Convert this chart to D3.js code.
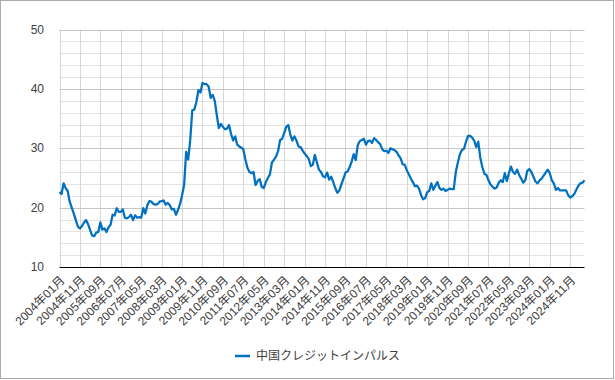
<!DOCTYPE html>
<html>
<head>
<meta charset="utf-8">
<script src="https://cdn.jsdelivr.net/npm/d3@7"></script>
<style>
    body { margin: 0; background: #fff; }
    svg { display: block; font-family: "Liberation Sans", "Noto Sans CJK JP", sans-serif; }
</style>
</head>
<body>
<svg id="chart"></svg>
<script>
// china credit impulse, monthly from 2004-01
const startMonth = "2004-01";
const seriesName = "中国クレジットインパルス";
const creditImpulse = [
    22.6, 22.3, 24.1, 23.3, 22.8, 21.0, 20.0, 19.0, 17.9, 16.8,
    16.5, 16.9, 17.5, 17.9, 17.2, 16.2, 15.3, 15.2, 15.8, 15.9,
    17.5, 16.3, 16.5, 15.9, 16.7, 17.1, 18.8, 18.7, 19.9, 19.3,
    19.3, 19.7, 18.3, 18.2, 18.4, 18.8, 17.9, 18.7, 18.3, 18.4,
    18.3, 19.9, 19.0, 20.4, 21.1, 21.0, 20.6, 20.5, 20.6, 21.0,
    21.1, 21.2, 20.5, 20.8, 20.4, 19.7, 19.8, 18.8, 19.6, 20.6,
    22.1, 23.8, 29.4, 28.1, 31.4, 36.4, 36.5, 37.8, 39.8, 39.4,
    41.0, 40.8, 40.8, 40.4, 38.5, 39.0, 38.0, 35.6, 33.4, 34.1,
    33.6, 33.2, 33.3, 33.9, 32.4, 31.3, 32.0, 30.6, 30.3, 30.1,
    29.8, 28.1, 26.7, 26.0, 25.8, 26.0, 23.8, 24.5, 24.8, 23.5,
    23.3, 24.3, 25.0, 25.6, 27.6, 28.1, 28.6, 29.5, 31.4, 31.6,
    32.6, 33.6, 33.9, 32.3, 31.3, 32.0, 31.3, 30.3, 30.2, 29.6,
    29.1, 28.7, 28.2, 27.0, 27.2, 28.9, 27.6, 26.4, 26.0, 25.3,
    25.1, 25.9, 24.7, 25.2, 24.3, 23.3, 22.5, 22.9, 23.9, 24.9,
    25.9, 26.1, 26.8, 27.7, 29.0, 28.0, 30.5, 31.2, 31.4, 31.6,
    30.6, 31.2, 31.3, 30.9, 31.7, 31.4, 31.0, 30.7, 29.8, 29.5,
    29.6, 29.2, 30.0, 29.8, 29.7, 29.4, 28.8, 28.3, 27.3, 27.2,
    26.3, 25.6, 24.9, 24.3, 23.6, 23.7, 23.2, 22.1, 21.4, 21.6,
    22.6, 22.8, 24.1, 23.0, 23.7, 24.3, 23.3, 23.0, 23.2, 22.8,
    23.0, 23.2, 23.1, 23.1, 26.0, 27.6, 29.0, 29.7, 29.9, 31.1,
    32.1, 32.1, 31.8, 31.3, 30.2, 31.1, 28.4, 26.8, 25.7, 25.5,
    24.6, 23.9, 23.5, 23.2, 23.4, 24.2, 24.6, 24.3, 25.8, 24.5,
    25.8, 26.9, 26.0, 25.7, 26.4, 25.5, 24.9, 24.2, 24.6, 26.2,
    26.5, 26.0, 25.2, 24.4, 24.1, 24.6, 24.9, 25.4, 25.9, 26.4,
    25.8, 24.6, 24.1, 23.0, 23.3, 22.9, 22.9, 22.9, 22.9, 22.1,
    21.7, 21.9, 22.3, 23.0, 23.7, 24.1, 24.2, 24.6
];
const tickLabels = [
    "2004年01月", "2004年11月", "2005年09月", "2006年07月", "2007年05月",
    "2008年03月", "2009年01月", "2009年11月", "2010年09月", "2011年07月",
    "2012年05月", "2013年03月", "2014年01月", "2014年11月", "2015年09月",
    "2016年07月", "2017年05月", "2018年03月", "2019年01月", "2019年11月",
    "2020年09月", "2021年07月", "2022年05月", "2023年03月", "2024年01月",
    "2024年11月"
];
const yTicks = [10, 20, 30, 40, 50];

const width = 615;
const height = 380;
const margin = { top: 29.5, right: 30.5, bottom: 113, left: 59.5 };
const lineColor = "#0070c0";

const svg = d3.select("#chart").attr("width", width).attr("height", height);

// outer frame
svg.append("rect")
    .attr("x", 0.5).attr("y", 0.5)
    .attr("width", width - 2).attr("height", height - 2)
    .attr("fill", "#fff")
    .attr("stroke", "#ababab");

const parse = d3.timeParse("%Y-%m");
const months = d3.range(creditImpulse.length).map(i => d3.timeMonth.offset(parse(startMonth), i));
const data = months.map((m, i) => ({ i, month: m, value: creditImpulse[i] }));

const x = d3.scaleLinear()
    .domain([0, data.length - 1])
    .range([margin.left, width - margin.right]);

const y = d3.scaleLinear()
    .domain([10, 50])
    .range([height - margin.bottom, margin.top]);

const tickIdx = tickLabels.map((_, k) => k * 10);

// minor horizontal grid
svg.append("g")
    .selectAll("line")
    .data(d3.range(12, 50, 2).filter(v => v % 10 !== 0))
    .join("line")
    .attr("x1", margin.left).attr("x2", width - margin.right)
    .attr("y1", d => Math.round(y(d)) + 0.5).attr("y2", d => Math.round(y(d)) + 0.5)
    .attr("stroke", "#e3e3e3");

// vertical grid
svg.append("g")
    .selectAll("line")
    .data(tickIdx)
    .join("line")
    .attr("x1", d => Math.round(x(d)) + 0.5).attr("x2", d => Math.round(x(d)) + 0.5)
    .attr("y1", margin.top).attr("y2", height - margin.bottom)
    .attr("stroke", "#d6d6d6");

// major horizontal grid
svg.append("g")
    .selectAll("line")
    .data(yTicks.slice(1))
    .join("line")
    .attr("x1", margin.left).attr("x2", width - margin.right)
    .attr("y1", d => Math.round(y(d)) + 0.5).attr("y2", d => Math.round(y(d)) + 0.5)
    .attr("stroke", "#c4c4c4");

// y labels
svg.append("g")
    .selectAll("text")
    .data(yTicks)
    .join("text")
    .attr("x", 44)
    .attr("y", d => y(d))
    .attr("dy", "0.35em")
    .attr("text-anchor", "end")
    .attr("font-size", 12)
    .attr("fill", "#404040")
    .text(d => d);

// x axis line
svg.append("line")
    .attr("x1", margin.left).attr("x2", width - margin.right)
    .attr("y1", Math.round(y(10)) + 0.5).attr("y2", Math.round(y(10)) + 0.5)
    .attr("stroke", "#000")
    .attr("stroke-width", 1.2);

// x labels, rotated
svg.append("g")
    .selectAll("text")
    .data(tickIdx)
    .join("text")
    .attr("transform", d => `translate(${x(d) + 3},${y(10) + 11}) rotate(-45)`)
    .attr("dy", "0.35em")
    .attr("text-anchor", "end")
    .attr("font-size", 12)
    .attr("fill", "#404040")
    .text((d, k) => tickLabels[k]);

// line
const line = d3.line()
    .x(d => x(d.i))
    .y(d => y(d.value));

svg.append("path")
    .datum(data)
    .attr("fill", "none")
    .attr("stroke", lineColor)
    .attr("stroke-width", 2.25)
    .attr("stroke-linejoin", "round")
    .attr("d", line);

// legend
const legend = svg.append("g").attr("transform", "translate(235,356)");
legend.append("line")
    .attr("x1", 0).attr("x2", 15)
    .attr("stroke", lineColor)
    .attr("stroke-width", 2.5);
legend.append("text")
    .attr("x", 21)
    .attr("dy", "0.35em")
    .attr("font-size", 12)
    .attr("fill", "#404040")
    .text(seriesName);
</script>
</body>
</html>
